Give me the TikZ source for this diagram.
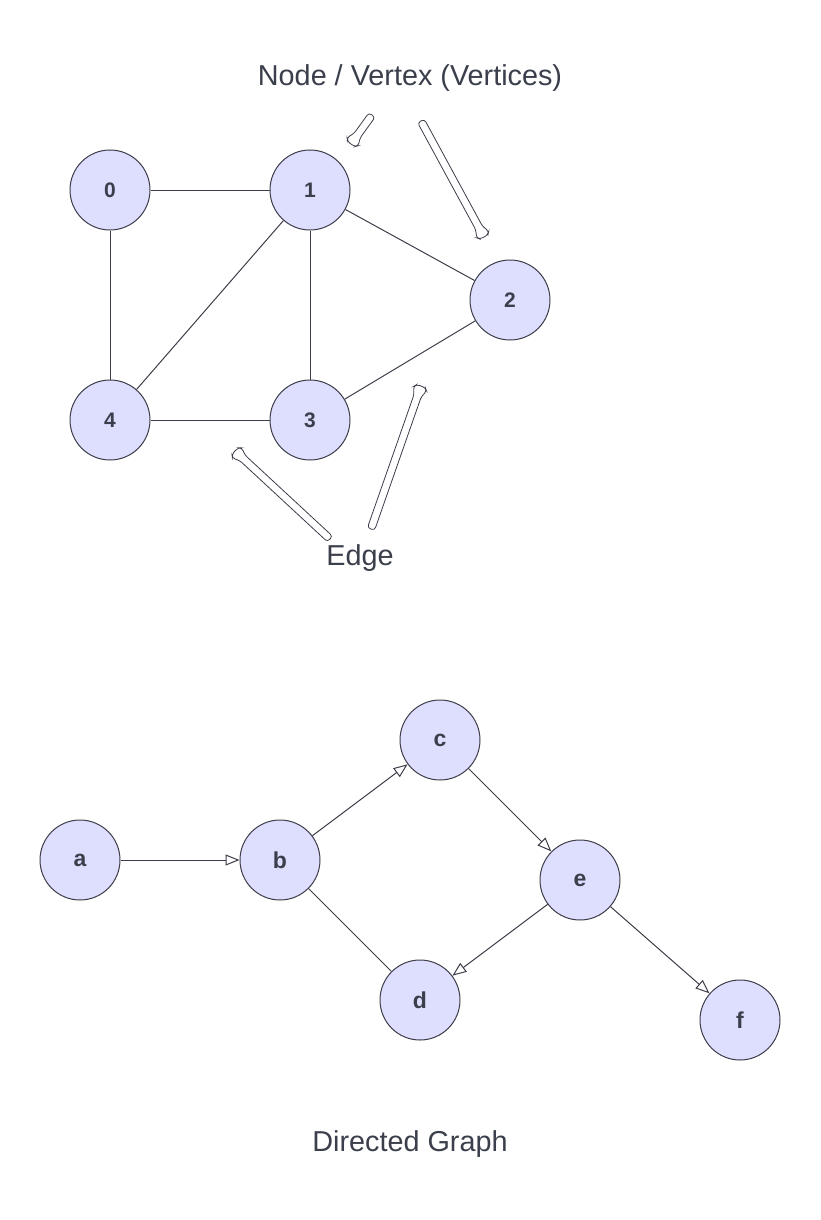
\documentclass[tikz,border=0pt]{standalone}
\usepackage{fontspec}
\setmainfont{Liberation Sans}
\usepackage{tikz}
\usetikzlibrary{arrows.meta}
\usetikzlibrary{calc}
\definecolor{vfill}{HTML}{DEDEFF}
\definecolor{vline}{HTML}{3D3D4A}
\definecolor{vtext}{HTML}{3A3F4B}
\tikzset{vertex/.style={circle, draw=vline, fill=vfill, line width=1pt, minimum size=80pt, inner sep=0pt, text=vtext, font=\bfseries\fontsize{21}{25}\selectfont}}
\tikzset{bigvertex/.style={vertex, font=\bfseries\fontsize{23}{27}\selectfont}}
\tikzset{link/.style={draw=vline, line width=1pt}}
\tikzset{dlink/.style={link, -{Triangle[open, length=14pt, width=11pt]}}}
\tikzset{callout/.style={draw=vline, line width=0.8pt, fill=white, rounded corners=3pt}}
\tikzset{caption/.style={text=vtext, font=\fontsize{28.8}{34}\selectfont}}

% hollow pointer: #1 tail, #2 head
\newcommand{\hollowarrow}[2]{%
 \coordinate (#2b) at ($(#2)!10pt!(#1)$);
 \coordinate (#2n) at ($(#2)!3pt!(#1)$);
 \draw[callout] ($(#1)!3.8pt!90:(#2)$) -- ($(#2b)!3.8pt!-90:(#1)$)
   -- ($(#2n)!7pt!-90:(#1)$) -- ($(#2)!4.5pt!-90:(#1)$)
   -- ($(#2)!4.5pt!90:(#1)$) -- ($(#2n)!7pt!90:(#1)$)
   -- ($(#2b)!3.8pt!90:(#1)$) -- ($(#1)!3.8pt!-90:(#2)$) -- cycle;
}

\begin{document}
\begin{tikzpicture}[x=1pt, y=-1pt]
\useasboundingbox (0,0) rectangle (820,1220);
% undirected graph
\foreach \n/\x/\y in {0/110/190, 1/310/190, 2/510/300, 3/310/420, 4/110/420} {
 \node[vertex] (\n) at (\x,\y) {\n};
}
\foreach \u/\v in {0/1, 0/4, 1/2, 1/3, 1/4, 4/3, 3/2} {
 \draw[link] (\u) -- (\v);
}
\node[caption] (vlabel) at (410,78) {Node / Vertex (Vertices)};
\node[caption] (elabel) at (360,558) {Edge};
% pointers
\coordinate (vtail1) at (372,115); \coordinate (vhead1) at (351,144);
\coordinate (vtail2) at (421,121); \coordinate (vhead2) at (484,237);
\coordinate (etail1) at (330,539); \coordinate (ehead1) at (235,451);
\coordinate (etail2) at (371,529); \coordinate (ehead2) at (421,386);
\hollowarrow{vtail1}{vhead1}
\hollowarrow{vtail2}{vhead2}
\hollowarrow{etail1}{ehead1}
\hollowarrow{etail2}{ehead2}
% directed graph
\foreach \n/\x/\y in {a/80/860, b/280/860, c/440/740, e/580/880, d/420/1000, f/740/1020} {
 \node[bigvertex] (\n) at (\x,\y) {\n};
}
\foreach \u/\v in {a/b, b/c, c/e, e/d, e/f} {
 \draw[dlink] (\u) -- (\v);
}
\draw[link] (b) -- (d);
\node[caption] (dlabel) at (410,1144) {Directed Graph};
\end{tikzpicture}
\end{document}
